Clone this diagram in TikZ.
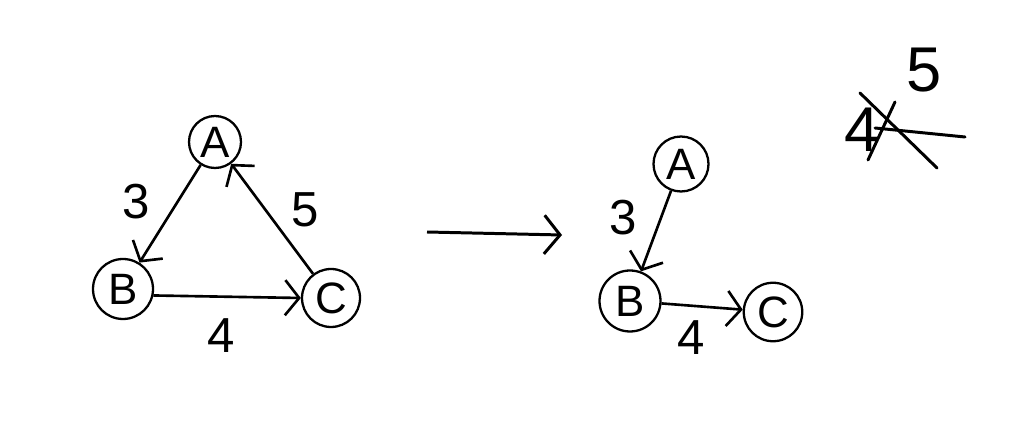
\documentclass[tikz,border=0pt]{standalone}
\usepackage{fontspec}
\setmainfont{Liberation Sans}
\usetikzlibrary{arrows.meta}
\tikzset{
  vert/.style={circle, draw, line width=1.3pt, inner sep=0pt, font=\fontsize{25}{25}\selectfont},
  conn/.style={line width=1.5pt, -{Straight Barb[length=8pt,width=20pt,line width=1.5pt]}},
  wlabel/.style={font=\fontsize{28}{28}\selectfont, inner sep=0pt},
  scrib/.style={line width=1.7pt, line cap=round, line join=round}
}
\begin{document}
\begin{tikzpicture}[x=0.02cm,y=-0.02cm]
\useasboundingbox (0,0) rectangle (1013,438);
% left graph
\node[vert, minimum size=1.04cm] (A) at (215,142) {A};
\node[vert, minimum size=1.2cm] (B) at (123,289) {B};
\node[vert, minimum size=1.16cm] (C) at (331,298) {C};
\draw[conn] (A) -- (B);
\draw[conn] (B.-12) -- (C.west);
\draw[conn] (C) -- (A);
\node[wlabel] (l3) at (136,202) {3};
\node[wlabel] (l5) at (305,210) {5};
\node[wlabel] (l4) at (221,336) {4};
% middle arrow
\coordinate (m1) at (427,232);
\coordinate (m2) at (562,235);
\draw[line width=1.7pt, -{Straight Barb[length=9pt,width=22pt,line width=1.7pt]}] (m1) -- (m2);
% right graph
\node[vert, minimum size=1.1cm] (A2) at (681,164) {A};
\node[vert, minimum size=1.22cm] (B2) at (630,301) {B};
\node[vert, minimum size=1.17cm] (C2) at (773,312) {C};
\draw[conn] (A2) -- (B2);
\draw[conn] (B2) -- (C2);
\node[wlabel] (r3) at (623,218) {3};
\node[wlabel] (r4) at (691,338) {4};
% scribble top right
\node[wlabel, font=\fontsize{36}{36}\selectfont] (s5) at (924,70) {5};
\node[wlabel, font=\fontsize{36}{36}\selectfont] (s4) at (862,130) {4};
\coordinate (h1) at (875,128);
\coordinate (h2) at (965,137);
\draw[scrib] (h1) -- (h2);
\coordinate (x1) at (860,93);
\coordinate (x2) at (937,168);
\draw[scrib] (x1) -- (x2);
\coordinate (y1) at (895,102);
\coordinate (y2) at (868,160);
\draw[scrib] (y1) -- (y2);
\end{tikzpicture}
\end{document}
